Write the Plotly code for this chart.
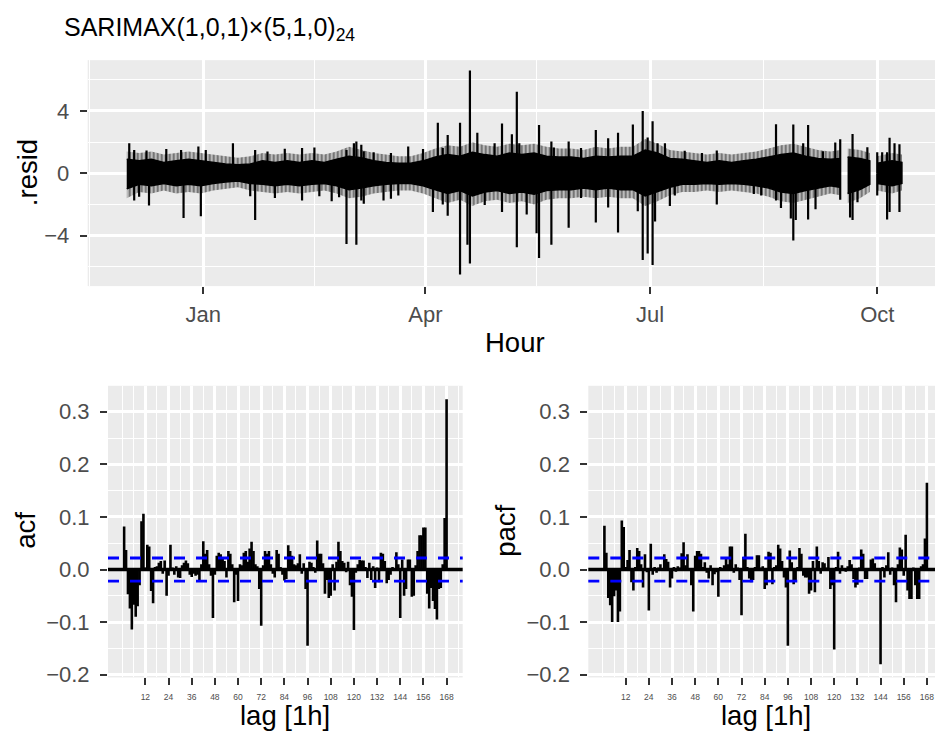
import plotly.graph_objects as go

# ---------------- data ----------------
band_dates = ["2018-12-01", "2018-12-06", "2018-12-11", "2018-12-16", "2018-12-21", "2018-12-26",
              "2018-12-31", "2019-01-05", "2019-01-10", "2019-01-15", "2019-01-20", "2019-01-25",
              "2019-01-30", "2019-02-04", "2019-02-09", "2019-02-14", "2019-02-19", "2019-02-24",
              "2019-03-01", "2019-03-06", "2019-03-11", "2019-03-16", "2019-03-21", "2019-03-26",
              "2019-03-31", "2019-04-05", "2019-04-10", "2019-04-15", "2019-04-20", "2019-04-25",
              "2019-04-30", "2019-05-05", "2019-05-10", "2019-05-15", "2019-05-20", "2019-05-25",
              "2019-05-30", "2019-06-04", "2019-06-09", "2019-06-14", "2019-06-19", "2019-06-24",
              "2019-06-29", "2019-07-04", "2019-07-09", "2019-07-14", "2019-07-19", "2019-07-24",
              "2019-07-29", "2019-08-03", "2019-08-08", "2019-08-13", "2019-08-18", "2019-08-23",
              "2019-08-28", "2019-09-02", "2019-09-07", "2019-09-12", "2019-09-16", "2019-09-18",
              "2019-09-19", "2019-09-24", "2019-09-28", "2019-09-30", "2019-10-01", "2019-10-07",
              "2019-10-11"]
# outer (ragged) envelope of the residual band
outer_hi = [1.4, 1.3, 1.4, 1.2, 1.3, 1.4, 1.3, 1.2, 1.1, 1.0, 1.1, 1.3, 1.2, 1.3, 1.2, 1.3, 1.2, 1.4,
            1.7, 1.5, 1.3, 1.2, 1.1, 1.1, 1.3, 1.6, 1.8, 1.7, 2.0, 1.8, 1.7, 1.9, 1.8, 1.9, 1.7, 1.6,
            1.6, 1.5, 1.7, 1.6, 1.7, 1.7, 2.2, 1.9, 1.5, 1.4, 1.3, 1.2, 1.3, 1.2, 1.3, 1.4, 1.6, 1.8,
            1.9, 1.7, 1.5, 1.4, 1.5, None, 1.6, 1.5, 1.3, None, 1.1, 1.3, 1.2]
outer_lo = [-1.6, -1.2, -1.3, -1.1, -1.3, -1.2, -1.3, -1.1, -1.0, -0.9, -1.1, -1.2, -1.3, -1.2, -1.3,
            -1.2, -1.1, -1.3, -1.6, -1.5, -1.3, -1.2, -1.1, -1.1, -1.3, -1.6, -1.9, -1.7, -2.1, -1.8,
            -1.7, -1.9, -1.8, -2.0, -1.7, -1.6, -1.6, -1.5, -1.6, -1.5, -1.6, -1.6, -2.1, -1.8, -1.4,
            -1.2, -1.2, -1.1, -1.2, -1.1, -1.2, -1.3, -1.5, -1.8, -1.9, -1.7, -1.5, -1.3, -1.4, None,
            -1.9, -1.6, -1.2, None, -1.1, -1.3, -1.1]
# dense (solid) core of the residual band
core_hi = [0.9, 0.8, 0.9, 0.7, 0.8, 0.9, 0.8, 0.7, 0.6, 0.55, 0.6, 0.8, 0.7, 0.8, 0.7, 0.8, 0.7, 0.9,
           1.1, 1.0, 0.8, 0.7, 0.65, 0.65, 0.8, 1.05, 1.2, 1.1, 1.35, 1.2, 1.1, 1.3, 1.2, 1.3, 1.1, 1.05,
           1.05, 0.95, 1.1, 1.05, 1.1, 1.1, 1.5, 1.3, 0.95, 0.9, 0.8, 0.7, 0.8, 0.7, 0.8, 0.9, 1.05,
           1.2, 1.3, 1.1, 0.95, 0.9, 0.95, None, 1.05, 0.95, 0.8, None, 0.65, 0.8, 0.7]
core_lo = [-1.0, -0.7, -0.8, -0.65, -0.8, -0.7, -0.8, -0.65, -0.55, -0.5, -0.65, -0.7, -0.8, -0.7,
           -0.8, -0.7, -0.65, -0.8, -1.05, -0.95, -0.8, -0.7, -0.65, -0.65, -0.8, -1.05, -1.3, -1.1,
           -1.45, -1.2, -1.1, -1.3, -1.2, -1.35, -1.1, -1.05, -1.05, -0.95, -1.05, -0.95, -1.05,
           -1.05, -1.45, -1.2, -0.9, -0.7, -0.7, -0.65, -0.7, -0.65, -0.7, -0.8, -0.95, -1.2, -1.3,
           -1.1, -0.95, -0.8, -0.9, None, -1.3, -1.05, -0.7, None, -0.65, -0.8, -0.65]

up_dates = ["2018-12-02", "2018-12-04", "2018-12-09", "2018-12-17", "2018-12-23", "2018-12-30",
            "2019-01-02", "2019-01-13", "2019-01-22", "2019-01-27", "2019-02-03", "2019-02-10",
            "2019-02-15", "2019-02-28", "2019-03-03", "2019-03-04", "2019-03-06", "2019-03-07",
            "2019-03-11", "2019-03-18", "2019-03-25", "2019-03-31", "2019-04-06", "2019-04-08",
            "2019-04-10", "2019-04-15", "2019-04-19", "2019-04-22", "2019-04-29", "2019-05-02",
            "2019-05-06", "2019-05-08", "2019-05-09", "2019-05-17", "2019-05-22", "2019-05-23",
            "2019-05-29", "2019-06-03", "2019-06-09", "2019-06-14", "2019-06-18", "2019-06-24",
            "2019-06-28", "2019-06-30", "2019-07-02", "2019-07-04", "2019-07-07", "2019-07-15",
            "2019-07-22", "2019-07-28", "2019-08-21", "2019-08-28", "2019-09-01", "2019-09-03",
            "2019-09-09", "2019-09-14", "2019-09-16", "2019-09-21", "2019-09-27", "2019-10-01",
            "2019-10-03", "2019-10-05", "2019-10-06", "2019-10-08", "2019-10-10"]
up_vals = [1.93, 1.50, 1.47, 1.56, 1.50, 1.72, 1.50, 1.93, 1.50, 1.40, 1.58, 1.63, 1.66, 1.50,
           1.93, 2.04, 1.83, 1.41, 1.35, 1.30, 1.72, 1.56, 3.24, 1.62, 2.46, 3.24, 6.60, 2.60,
           1.93, 3.20, 2.50, 5.24, 1.93, 3.10, 2.04, 1.66, 2.04, 1.62, 2.78, 2.25, 2.60, 3.13,
           4.00, 2.30, 3.34, 1.93, 1.93, 1.45, 1.30, 1.47, 3.15, 3.13, 1.93, 3.10, 1.41, 1.98,
           2.19, 2.52, 1.68, 1.35, 1.35, 1.35, 2.29, 1.93, 1.87]

dn_dates = ["2018-12-04", "2018-12-06", "2018-12-10", "2018-12-24", "2018-12-31", "2019-01-20",
            "2019-01-22", "2019-01-30", "2019-02-10", "2019-02-17", "2019-02-22", "2019-02-25",
            "2019-02-28", "2019-03-04", "2019-03-06", "2019-03-07", "2019-03-15", "2019-03-18",
            "2019-03-21", "2019-04-04", "2019-04-08", "2019-04-10", "2019-04-15", "2019-04-18",
            "2019-04-19", "2019-04-25", "2019-05-02", "2019-05-08", "2019-05-12", "2019-05-16",
            "2019-05-17", "2019-05-22", "2019-05-29", "2019-06-03", "2019-06-09", "2019-06-14",
            "2019-06-18", "2019-06-26", "2019-06-28", "2019-06-30", "2019-07-02", "2019-07-03",
            "2019-07-09", "2019-07-11", "2019-07-28", "2019-08-12", "2019-08-15", "2019-08-21",
            "2019-08-23", "2019-08-27", "2019-08-28", "2019-08-29", "2019-09-03", "2019-09-06",
            "2019-09-16", "2019-09-20", "2019-09-21", "2019-09-23", "2019-10-01", "2019-10-05",
            "2019-10-06", "2019-10-10"]
dn_vals = [-1.75, -1.50, -2.06, -2.86, -2.75, -1.47, -3.00, -1.58, -1.75, -1.47, -1.80, -1.54,
           -4.54, -4.58, -1.75, -1.96, -1.75, -1.64, -1.43, -2.48, -2.00, -2.73, -6.50, -4.58,
           -5.78, -2.03, -2.48, -4.75, -2.65, -3.85, -5.43, -4.58, -3.50, -1.58, -3.15, -2.20,
           -3.80, -2.44, -5.57, -5.15, -5.89, -3.10, -2.10, -1.43, -2.00, -1.33, -1.43, -1.75,
           -2.23, -2.90, -4.31, -3.00, -2.97, -2.30, -1.70, -2.84, -3.00, -1.85, -1.43, -2.97,
           -2.48, -2.48]

lags = list(range(1, 169))
acf_vals = [
    0.082, 0.037, -0.047, -0.074, -0.114, -0.067, -0.090, -0.070, -0.030, 0.092, 0.106, 0.004,
    0.047, 0.044, -0.041, -0.064, 0.005, 0.006, 0.013, 0.016, -0.008, 0.017, -0.050, -0.012,
    0.047, 0.004, -0.010, 0.006, -0.015, -0.016, 0.008, 0.013, 0.017, 0.012, -0.010, -0.014,
    -0.008, -0.012, -0.010, -0.020, 0.010, 0.054, 0.030, 0.037, 0.010, -0.012, -0.092, -0.010,
    0.026, 0.032, 0.029, 0.022, 0.016, -0.015, 0.035, 0.030, 0.010, -0.062, -0.010, -0.060,
    0.010, 0.008, 0.032, 0.035, 0.015, 0.040, 0.053, 0.035, 0.010, 0.006, -0.037, -0.107,
    0.008, 0.035, 0.030, 0.035, 0.010, -0.008, -0.015, 0.037, 0.030, 0.005, -0.010, -0.021,
    -0.018, 0.046, 0.035, 0.026, 0.010, 0.008, 0.012, 0.029, -0.008, 0.012, -0.037, -0.145,
    0.015, 0.013, 0.005, -0.006, 0.055, 0.030, 0.030, 0.012, -0.046, -0.020, -0.054, -0.050,
    0.010, -0.040, 0.015, 0.053, 0.035, 0.016, 0.013, -0.005, 0.015, -0.030, -0.052, -0.115,
    -0.006, 0.010, 0.018, 0.017, 0.017, 0.005, -0.016, 0.013, -0.020, 0.006, -0.035, 0.004,
    -0.024, 0.032, 0.030, 0.016, -0.026, -0.020, -0.010, 0.005, 0.003, 0.033, 0.010, -0.092,
    0.019, -0.050, -0.037, 0.019, 0.019, -0.052, -0.050, 0.008, 0.035, 0.065, 0.065, 0.080,
    0.080, -0.046, -0.074, -0.035, -0.060, -0.075, -0.095, -0.037, -0.035, 0.010, 0.098, 0.324]
pacf_vals = [
    0.083, 0.032, -0.054, -0.068, -0.100, -0.051, -0.040, -0.100, -0.080, 0.093, 0.081, 0.005,
    0.018, 0.037, -0.024, -0.040, 0.005, 0.041, 0.035, 0.010, -0.034, 0.029, -0.005, -0.078,
    0.049, -0.010, 0.005, -0.006, 0.004, 0.010, 0.003, 0.029, 0.020, 0.015, -0.034, -0.017,
    0.005, -0.004, 0.006, 0.004, 0.031, 0.052, 0.008, 0.029, -0.003, -0.030, -0.080, 0.026,
    0.035, 0.035, 0.030, 0.005, 0.014, -0.006, -0.017, 0.008, -0.030, -0.009, -0.005, -0.052,
    0.005, 0.003, 0.008, 0.024, 0.010, 0.044, 0.044, -0.006, 0.010, 0.004, -0.020, -0.087,
    0.024, 0.068, 0.005, -0.017, -0.024, -0.020, 0.005, 0.027, 0.027, 0.004, 0.006, -0.037,
    -0.030, 0.034, 0.032, -0.028, 0.005, 0.008, 0.047, 0.040, 0.016, -0.015, -0.034, -0.145,
    0.036, 0.014, -0.028, -0.020, 0.005, 0.041, 0.030, -0.012, -0.015, -0.015, -0.046, -0.040,
    0.016, -0.043, 0.044, 0.016, -0.008, 0.014, 0.012, 0.004, 0.024, -0.037, -0.030, -0.152,
    0.005, 0.034, -0.008, 0.008, 0.003, -0.004, 0.006, 0.018, 0.010, -0.018, -0.034, -0.029,
    0.004, 0.038, 0.030, -0.018, -0.018, 0.003, 0.019, 0.021, 0.012, 0.003, 0.001, -0.180,
    0.005, -0.015, 0.008, 0.033, -0.010, 0.004, -0.030, -0.062, 0.010, 0.042, 0.038, -0.012,
    0.066, -0.040, -0.056, -0.056, 0.004, -0.030, -0.056, -0.056, 0.006, 0.010, 0.059, 0.165]
ci_bound = 0.0219

resid_ticks = [-4, 0, 4]
resid_tick_text = ["\u22124", "0", "4"]
resid_minor = [-6, -2, 2, 6]
month_ticks = ["2019-01-01", "2019-04-01", "2019-07-01", "2019-10-01"]
month_labels = ["Jan", "Apr", "Jul", "Oct"]
month_minor = ["2018-11-16", "2019-02-15", "2019-05-16", "2019-08-16"]
cf_ticks = [0.3, 0.2, 0.1, 0.0, -0.1, -0.2]
cf_tick_text = ["0.3", "0.2", "0.1", "0.0", "\u22120.1", "\u22120.2"]
cf_minor = [0.25, 0.15, 0.05, -0.05, -0.15]
lag_ticks = list(range(12, 169, 12))
lag_minor = list(range(0, 181, 6))

title_text = "SARIMAX(1,0,1)\u00d7(5,1,0)<sub>24</sub>"

# ---------------- geometry helpers (pixels -> paper) ----------------
W, H = 935, 749


def fx(p):
    return p / W


def fy(p):
    return 1 - p / H


FONT = "Liberation Sans, Arial, Helvetica, sans-serif"
TICK_COL = "#4D4D4D"

fig = go.Figure()


def band_segments(dates, hi, lo):
    segs, cur = [], []
    for d, h, l in zip(dates, hi, lo):
        if h is None:
            if cur:
                segs.append(cur)
            cur = []
        else:
            cur.append((d, h, l))
    if cur:
        segs.append(cur)
    return segs


# ---- outer ragged part of the band (hatched) ----
for seg in band_segments(band_dates, outer_hi, outer_lo):
    xs = [s[0] for s in seg] + [s[0] for s in reversed(seg)]
    ys = [s[1] for s in seg] + [s[2] for s in reversed(seg)]
    fig.add_trace(go.Scatter(x=xs, y=ys, mode="lines", fill="toself",
                             fillcolor="rgba(0,0,0,0)",
                             fillpattern=dict(shape="|", size=4, solidity=0.7,
                                              fgcolor="black", bgcolor="rgba(0,0,0,0)"),
                             line=dict(color="rgba(0,0,0,0)", width=0), xaxis="x", yaxis="y",
                             hoverinfo="skip"))

# ---- dense core of the band ----
for seg in band_segments(band_dates, core_hi, core_lo):
    xs = [s[0] for s in seg] + [s[0] for s in reversed(seg)]
    ys = [s[1] for s in seg] + [s[2] for s in reversed(seg)]
    fig.add_trace(go.Scatter(x=xs, y=ys, mode="lines", fill="toself", fillcolor="black",
                             line=dict(color="black", width=1.5), xaxis="x", yaxis="y",
                             hoverinfo="skip"))

# ---- residual spikes ----
sx, sy = [], []
for d, v in zip(up_dates, up_vals):
    sx += [d, d, None]
    sy += [0, v, None]
for d, v in zip(dn_dates, dn_vals):
    sx += [d, d, None]
    sy += [0, v, None]
fig.add_trace(go.Scatter(x=sx, y=sy, mode="lines", line=dict(color="black", width=2.2),
                         xaxis="x", yaxis="y", hoverinfo="skip"))

# ---- ACF / PACF bars ----
for vals, xa, ya in [(acf_vals, "x2", "y2"), (pacf_vals, "x3", "y3")]:
    bx, by = [], []
    for k, v in zip(lags, vals):
        bx += [k, k, None]
        by += [0, v, None]
    fig.add_trace(go.Scatter(x=bx, y=by, mode="lines", line=dict(color="black", width=2.6),
                             xaxis=xa, yaxis=ya, hoverinfo="skip"))

shapes = []
for xa, ya in [("x2", "y2"), ("x3", "y3")]:
    shapes.append(dict(type="line", xref=f"{xa} domain", yref=ya, x0=0, x1=1, y0=0, y1=0,
                       line=dict(color="black", width=3.4), layer="above"))
    for s in (1, -1):
        shapes.append(dict(type="line", xref=f"{xa} domain", yref=ya, x0=0, x1=1,
                           y0=s * ci_bound, y1=s * ci_bound,
                           line=dict(color="blue", width=2.8, dash="11px,11px"), layer="above"))

axis_common = dict(ticks="outside", ticklen=7, tickwidth=2.4, tickcolor="#333333",
                   showline=False, zeroline=False, gridcolor="white", gridwidth=2.6,
                   tickfont=dict(family=FONT, size=22, color=TICK_COL))


def minor(vals):
    return dict(tickmode="array", tickvals=vals, gridcolor="white", gridwidth=1.3, ticks="")


# top panel axes
xaxis = dict(axis_common, type="date", domain=[fx(87.7), 1.0],
             range=["2018-11-15 04:00", "2019-10-24 09:36"],
             tickmode="array", tickvals=month_ticks, ticktext=month_labels,
             minor=minor(month_minor), anchor="y", ticklabelstandoff=1,
             ticklabeloverflow="allow")
yaxis = dict(axis_common, domain=[fy(290), fy(61)], range=[-7.24, 7.26],
             tickmode="array", tickvals=resid_ticks, ticktext=resid_tick_text,
             minor=minor(resid_minor), anchor="x", ticklabelstandoff=6)

lag_font = dict(family=FONT, size=8.5, color=TICK_COL)
xaxis2 = dict(axis_common, domain=[fx(108), fx(462.7)], range=[-7.35, 176.35],
              tickmode="array", tickvals=lag_ticks, ticktext=[str(v) for v in lag_ticks],
              tickfont=lag_font, minor=minor(lag_minor), anchor="y2", ticklabelstandoff=4,
              ticklabeloverflow="allow")
yaxis2 = dict(axis_common, domain=[fy(686.6), fy(391)], range=[-0.2052, 0.3494],
              tickmode="array", tickvals=cf_ticks, ticktext=cf_tick_text,
              minor=minor(cf_minor), anchor="x2", ticklabelstandoff=6)
xaxis3 = dict(axis_common, domain=[fx(588.3), 1.0], range=[-7.35, 172.2],
              tickmode="array", tickvals=lag_ticks, ticktext=[str(v) for v in lag_ticks],
              tickfont=lag_font, minor=minor(lag_minor), anchor="y3", ticklabelstandoff=4,
              ticklabeloverflow="allow")
yaxis3 = dict(axis_common, domain=[fy(686.6), fy(391)], range=[-0.2052, 0.3494],
              tickmode="array", tickvals=cf_ticks, ticktext=cf_tick_text,
              minor=minor(cf_minor), anchor="x3", ticklabelstandoff=6)

title_font = dict(family=FONT, size=27.5, color="black")
annotations = [
    dict(text=title_text, x=fx(62), y=fy(11), xref="paper", yref="paper", xanchor="left",
         yanchor="top", showarrow=False, font=dict(family=FONT, size=25, color="black")),
    dict(text=".resid", x=fx(27), y=fy(175.5), xref="paper", yref="paper", textangle=-90,
         xanchor="center", yanchor="middle", showarrow=False, font=title_font),
    dict(text="Hour", x=fx(515), y=fy(347), xref="paper", yref="paper",
         xanchor="center", yanchor="middle", showarrow=False, font=title_font),
    dict(text="acf", x=fx(26), y=fy(538), xref="paper", yref="paper", textangle=-90,
         xanchor="center", yanchor="middle", showarrow=False, font=title_font),
    dict(text="pacf", x=fx(506), y=fy(538), xref="paper", yref="paper", textangle=-90,
         xanchor="center", yanchor="middle", showarrow=False, font=title_font),
    dict(text="lag [1h]", x=fx(285.3), y=fy(725), xref="paper", yref="paper",
         xanchor="center", yanchor="middle", showarrow=False, font=title_font),
    dict(text="lag [1h]", x=fx(765.8), y=fy(725), xref="paper", yref="paper",
         xanchor="center", yanchor="middle", showarrow=False, font=title_font),
]

fig.update_layout(width=W, height=H, margin=dict(l=0, r=0, t=0, b=0),
                  paper_bgcolor="white", plot_bgcolor="#EBEBEB", showlegend=False,
                  font=dict(family=FONT),
                  xaxis=xaxis, yaxis=yaxis, xaxis2=xaxis2, yaxis2=yaxis2,
                  xaxis3=xaxis3, yaxis3=yaxis3, shapes=shapes, annotations=annotations)

fig.write_html("out.html")
